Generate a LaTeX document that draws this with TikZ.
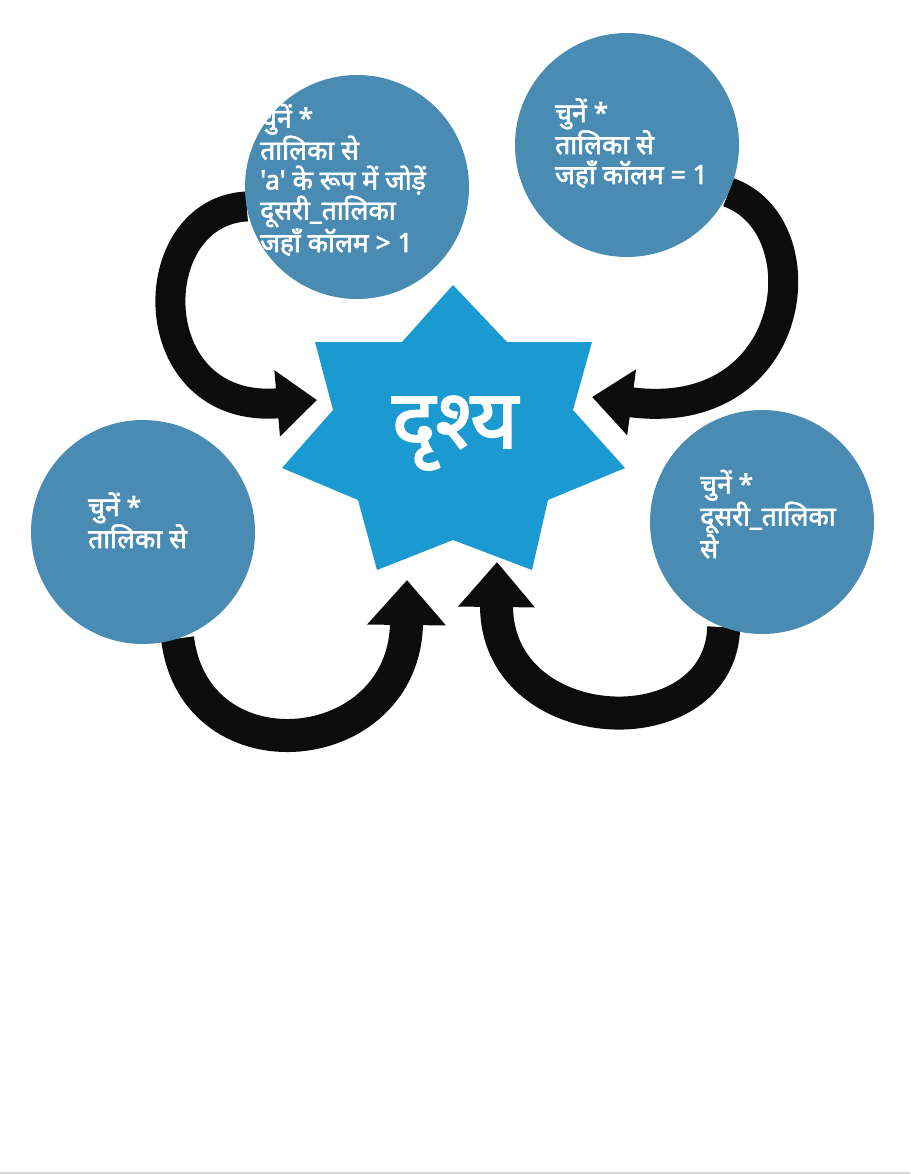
\documentclass[tikz,border=0pt]{standalone}
\usepackage{fontspec}
\newfontfamily\hindi[Script=Devanagari, AutoFakeBold=2.4]{Noto Sans}
\usetikzlibrary{arrows.meta}
\definecolor{circblue}{HTML}{498BB2}
\definecolor{starblue}{HTML}{1B9AD2}
\definecolor{arrowblk}{HTML}{0C0C0C}
\pgfdeclarelayer{back}
\pgfsetlayers{back,main}
\begin{document}
\begin{tikzpicture}[x=1pt,y=-1pt,
  bubble/.style={circle, fill=circblue, minimum size=224pt, inner sep=0pt, outer sep=0pt},
  bubtext/.style={anchor=base west, align=left, text=white, inner sep=0pt,
    font=\hindi\bfseries\fontsize{26.5}{30}\selectfont},
  flow/.style={draw=arrowblk, line width=30pt, -{Triangle[length=40pt,width=64pt]}},
]
\useasboundingbox (0,0) rectangle (910,1174);
\draw[gray!30, line width=1.5pt] (0,1173) -- (910,1173);

% bubbles
\node[bubble] (c1) at (357,187) {};
\node[bubble] (c2) at (627,145) {};
\node[bubble] (c3) at (143,532) {};
\node[bubble] (c4) at (762,522) {};

\node[bubtext] (l1) at (260,252) {चुनें *\\तालिका से\\'a' के रूप में जोड़ें\\दूसरी\_तालिका\\जहाँ कॉलम > 1};
\node[bubtext] (l2) at (555,184) {चुनें *\\तालिका से\\जहाँ कॉलम = 1};
\node[bubtext] (l3) at (88,548) {चुनें *\\तालिका से};
\node[bubtext] (l4) at (700,558) {चुनें *\\दूसरी\_तालिका\\से};

% star
\fill[starblue] (453,285) -- (507,342) -- (592,342) -- (573,410) -- (625,468)
  -- (548,500) -- (532,570) -- (453,540) -- (377,570) -- (358,500)
  -- (282,468) -- (333,410) -- (315,342) -- (402,342) -- cycle;
\node[anchor=base, text=white, inner sep=0pt,
  font=\hindi\bfseries\fontsize{82}{90}\selectfont] (star) at (455,448) {दृश्य};

% arrow tips
\coordinate (t1) at (317,400);
\coordinate (t2) at (592,397);
\coordinate (t3) at (407,580);
\coordinate (t4) at (497,562);

\begin{pgfonlayer}{back}
\draw[flow] (c1.190) .. controls (140,212) and (140,415) .. (t1);
\draw[flow] (c2.-25) .. controls (822,225) and (800,425) .. (t2);
\draw[flow, line width=33pt, -{Triangle[length=45pt,width=76pt]}] (c3.-72) .. controls (195,780) and (405,760) .. (t3);
\draw[flow, line width=33pt, -{Triangle[length=45pt,width=74pt]}] (c4.-110) .. controls (720,750) and (495,740) .. (t4);
\end{pgfonlayer}
\end{tikzpicture}
\end{document}
